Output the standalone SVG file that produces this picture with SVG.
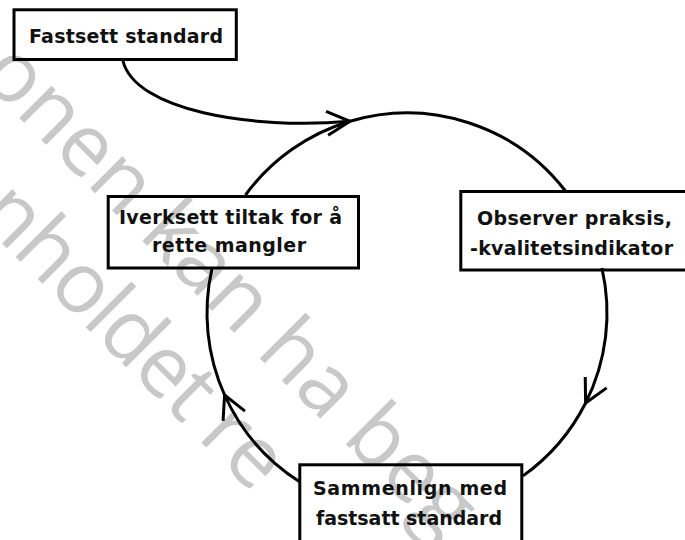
<svg xmlns="http://www.w3.org/2000/svg" width="685" height="540" viewBox="0 0 685 540">
  <defs>
    <style>
      .box { fill: none; stroke: #000; stroke-width: 3; }
      .lbl { font-family: "DejaVu Sans", "Liberation Sans", sans-serif; font-weight: bold; font-size: 19px; fill: #111; }
      .conn { fill: none; stroke: #000; stroke-width: 3; }
      .wm { font-family: "Open Sans", "Liberation Sans", sans-serif; font-size: 85px; fill: #c8c8c8; }
    </style>
    <marker id="arr" markerUnits="userSpaceOnUse" markerWidth="40" markerHeight="40" refX="0" refY="0" viewBox="-30 -20 40 40" orient="auto" overflow="visible">
      <path d="M -23 -12 L 0 0 L -23 12" fill="none" stroke="#000" stroke-width="3" stroke-linejoin="miter"/>
    </marker>
  </defs>
  <rect width="685" height="540" fill="#fff"/>
  <g id="watermark" transform="translate(17,73) rotate(45)">
    <text class="wm" x="-25" y="30">onen kan ha beg</text>
    <text class="wm" x="2" y="131" letter-spacing="-2">innholdet re</text>
  </g>
  <g id="connectors">
    <path class="conn" d="M 123 61 C 135 110, 250 130, 350 121.3" marker-end="url(#arr)"/>
    <path class="conn" d="M 245.5 195 A 200 200 0 0 1 350 121.3"/>
    <path class="conn" d="M 350 121.3 A 200 200 0 0 1 565.5 191"/>
    <path class="conn" d="M 601.9 268 A 200 200 0 0 1 585.6 403" marker-end="url(#arr)"/>
    <path class="conn" d="M 585.6 403 A 200 200 0 0 1 523 475.9"/>
    <path class="conn" d="M 300 482 A 200 200 0 0 1 224.6 395" marker-end="url(#arr)"/>
    <path class="conn" d="M 224.6 395 A 200 200 0 0 1 211.9 269"/>
  </g>
  <g id="n-fastsett">
    <rect class="box" x="14" y="9.8" width="222.3" height="49.7"/>
    <text class="lbl" x="29" y="43" textLength="194" lengthAdjust="spacing">Fastsett standard</text>
  </g>
  <g id="n-observer">
    <rect class="box" x="460.8" y="191.5" width="226" height="78.5"/>
    <text class="lbl" x="477" y="225" textLength="195" lengthAdjust="spacing">Observer praksis,</text>
    <text class="lbl" x="470" y="255" textLength="203" lengthAdjust="spacing">-kvalitetsindikator</text>
  </g>
  <g id="n-iverksett">
    <rect class="box" x="108.2" y="196.5" width="250.3" height="71.5"/>
    <text class="lbl" x="119" y="224" textLength="223" lengthAdjust="spacing">Iverksett tiltak for å</text>
    <text class="lbl" x="152" y="252" textLength="154" lengthAdjust="spacing">rette mangler</text>
  </g>
  <g id="n-sammenlign">
    <rect class="box" x="299.8" y="464.8" width="222" height="80"/>
    <text class="lbl" x="313" y="495" textLength="194" lengthAdjust="spacing">Sammenlign med</text>
    <text class="lbl" x="316" y="525" textLength="186" lengthAdjust="spacing">fastsatt standard</text>
  </g>
</svg>
